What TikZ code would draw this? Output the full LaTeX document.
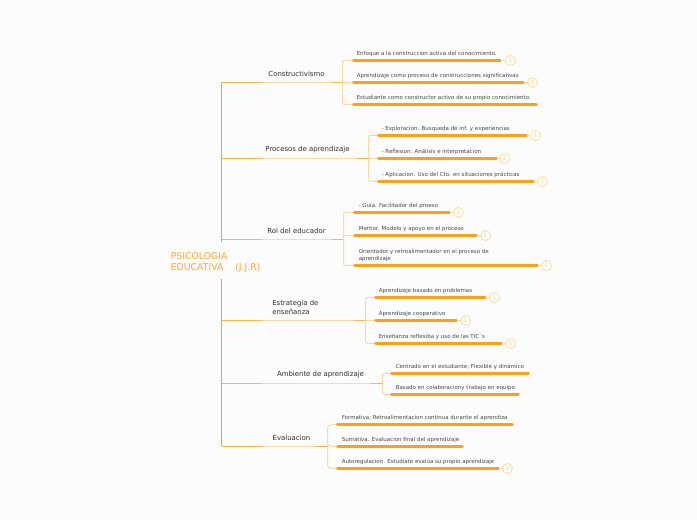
\documentclass[tikz,border=0pt]{standalone}
\usepackage{xcolor}
\usepackage{fontspec}
\setmainfont{DejaVu Sans}
\usetikzlibrary{positioning, calc}
\definecolor{mainorange}{HTML}{FF9F1A}
\definecolor{branchorange}{HTML}{FFB24D}
\definecolor{softorange}{HTML}{FFD9A3}
\definecolor{badgetext}{HTML}{FFCC85}
\definecolor{rootorange}{HTML}{FFA733}
\definecolor{leaftext}{HTML}{484848}
\definecolor{branchtext}{HTML}{303030}
\tikzset{
	rootlabel/.style={anchor=west, align=left, inner sep=0pt, text=rootorange, font=\fontsize{7}{8.6}\selectfont},
	branchlabel/.style={inner sep=0pt, text=branchtext, font=\fontsize{5.2}{6.8}\selectfont},
	leaflabel/.style={anchor=west, align=left, inner sep=0pt, text=leaftext, font=\fontsize{4.12}{5.2}\selectfont},
	trunkline/.style={draw=mainorange, line width=0.75pt},
	branchline/.style={draw=branchorange, line width=0.75pt},
	softline/.style={draw=softorange, line width=0.75pt},
	leafbar/.style={draw=mainorange, line width=2pt, line cap=round},
	badge/.style={circle, draw=softorange, line width=0.6pt, fill=white, minimum size=7.4pt, inner sep=0pt, text=badgetext, font=\fontsize{4.4}{4.4}\selectfont},
}
\begin{document}
\begin{tikzpicture}[x=0.75pt, y=-0.75pt]
	\fill[white!99!black] (0,0) rectangle (697,520);
	\useasboundingbox (0,0) rectangle (697,520);
	\begin{scope}[shift={(0.5,0.5)}]

	\node [rootlabel] (root) at (170,262) {PSICOLOGIA\\EDUCATIVA\ \ \ \ (J.J.R)};
	\coordinate (trunktop) at (221,82);
	\coordinate (trunkbreaka) at (221,242);
	\coordinate (trunkbreakb) at (221,279);
	\coordinate (trunkend) at (221,446);
	\draw [trunkline] (trunktop) -- (trunkbreaka);
	\draw [trunkline] (trunkbreakb) -- (trunkend);

	% branches
	\foreach \n/\y/\xend in {a/82/342, b/158/368, c/239/343, d/320/365, e/383/382, f/446/327}
	{
		\coordinate (\n start) at (221,\y);
		\coordinate (\n soft) at (261,\y);
		\coordinate (\n hard) at (\xend-12,\y);
		\coordinate (\n end) at (\xend,\y);
		\draw [softline] (\n soft) -- (\n hard);
		\draw [branchline] (\n start) -- (\n soft);
		\draw [branchline] (\n hard) -- (\n end);
	}
	\node [branchlabel] (alabel) at (296,73) {Constructivismo};
	\node [branchlabel] (blabel) at (307,149.5) {Procesos de aprendizaje};
	\node [branchlabel] (clabel) at (296,230.5) {Rol del educador};
	\node [branchlabel, anchor=west, align=left] (dlabel) at (271.5,307) {Estrategia de\\enseñanza};
	\node [branchlabel] (elabel) at (320,374.5) {Ambiente de aprendizaje};
	\node [branchlabel] (flabel) at (291,437.5) {Evaluacion};

	% leaves
	\def\xstep{353}
	\foreach \n/\y/\xend/\txt in {a1/60/500/{Enfoque a la construccion activa del conocimiento.}, a2/82/523/{Aprendizaje como proceso de construcciones significativas}, a3/104/536/{Estudiante como constructor activo de su propio conocimiento.}}
	{
		\coordinate (\n start) at (\xstep,\y);
		\coordinate (\n end) at (\xend,\y);
		\draw [softline, rounded corners=1pt] (aend) |- (\n start);
		\draw [leafbar] (\n start) -- (\n end);
		\node [leaflabel] (\n label) at (\xstep+3,\y-6.2) {\txt};
	}
	\def\xstep{378}
	\foreach \n/\y/\xend/\txt in {b1/135/526/{- Exploracion. Busqueda de inf. y experiencias}, b2/158/496/{- Reflesion. Análisis e interpretacion}, b3/181/533/{- Aplicacion. Uso del Cto. en situaciones prácticas}}
	{
		\coordinate (\n start) at (\xstep,\y);
		\coordinate (\n end) at (\xend,\y);
		\draw [softline, rounded corners=1pt] (bend) |- (\n start);
		\draw [leafbar] (\n start) -- (\n end);
		\node [leaflabel] (\n label) at (\xstep+3,\y-6.2) {\txt};
	}
	\def\xstep{354}
	\foreach \n/\y/\xend/\txt in {c1/212/449/{- Guía. Facilitador del proeso}, c2/235/476/{Mentor. Modelo y apoyo en el proceso}}
	{
		\coordinate (\n start) at (\xstep,\y);
		\coordinate (\n end) at (\xend,\y);
		\draw [softline, rounded corners=1pt] (cend) |- (\n start);
		\draw [leafbar] (\n start) -- (\n end);
		\node [leaflabel] (\n label) at (\xstep+4,\y-6.2) {\txt};
	}
	\coordinate (c3start) at (354,265);
	\coordinate (c3end) at (537,265);
	\draw [softline, rounded corners=1pt] (cend) |- (c3start);
	\draw [leafbar] (c3start) -- (c3end);
	\node [leaflabel] (c3label) at (358,255) {Orientador y retroalimentador en el proceso de\\aprendizaje};
	\def\xstep{375}
	\foreach \n/\y/\xend/\txt in {d1/297/485/{Aprendizaje basado en problemas}, d2/320/456/{Aprendizaje cooperativo}, d3/343/501/{Enseñanza reflexiba y uso de las TIC´s}}
	{
		\coordinate (\n start) at (\xstep,\y);
		\coordinate (\n end) at (\xend,\y);
		\draw [softline, rounded corners=1pt] (dend) |- (\n start);
		\draw [leafbar] (\n start) -- (\n end);
		\node [leaflabel] (\n label) at (\xstep+3,\y-6.2) {\txt};
	}
	\def\xstep{391}
	\foreach \n/\y/\xend/\txt in {e1/373/528/{Centrado en el estudiante; Flexible y dinámico}, e2/394/518/{Basado en colaboraciony trabajo en equipo}}
	{
		\coordinate (\n start) at (\xstep,\y);
		\coordinate (\n end) at (\xend,\y);
		\draw [softline, rounded corners=1pt] (eend) |- (\n start);
		\draw [leafbar] (\n start) -- (\n end);
		\node [leaflabel] (\n label) at (\xstep+4,\y-6.2) {\txt};
	}
	\def\xstep{337}
	\foreach \n/\y/\xend/\txt in {f1/424/512/{Formativa; Retroalimentacion continua durante el aprendiza}, f2/446/462/{Sumativa. Evaluacion final del aprendizaje}, f3/468/498/{Autoregulacion. Estudiate evalúa su propio aprendizaje}}
	{
		\coordinate (\n start) at (\xstep,\y);
		\coordinate (\n end) at (\xend,\y);
		\draw [softline, rounded corners=3pt] (fend) |- (\n start);
		\draw [leafbar] (\n start) -- (\n end);
		\node [leaflabel] (\n label) at (\xstep+4,\y-6.2) {\txt};
	}

	% badges
	\foreach \n/\x in {a1/510, a2/532, b1/535, b2/504, b3/542, c1/458, c2/485, c3/546, d1/494, d2/465, d3/510, f3/507}
	{
		\node [badge] (\n badge) at (\n end -| \x,0) {1};
		\draw [softline] (\n end) -- (\n badge);
	}
	\end{scope}
\end{tikzpicture}
\end{document}
